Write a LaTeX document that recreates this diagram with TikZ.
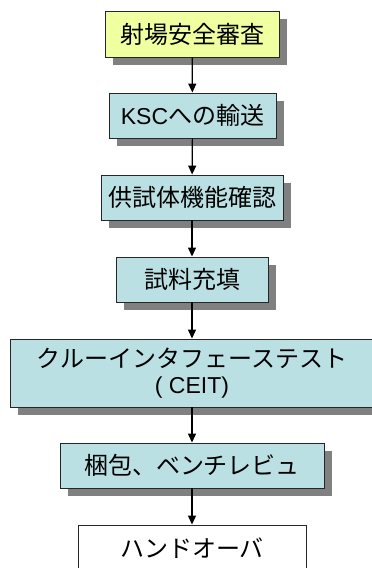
\documentclass[tikz,border=0pt]{standalone}
\usepackage{fontspec}
\setmainfont{Noto Sans CJK JP}
\newfontfamily\lat{Liberation Sans}
\usetikzlibrary{shadows,arrows.meta}
\definecolor{boxyellow}{RGB}{240,255,160}
\definecolor{boxcyan}{RGB}{187,224,227}
\definecolor{shadowgray}{RGB}{128,128,128}
\tikzset{
  flowbox/.style={draw=black!85, line width=0.9pt, inner sep=0pt, align=center,
    font=\fontsize{24}{25.5}\selectfont},
  shadowed/.style={drop shadow={shadow xshift=8pt, shadow yshift=-8pt, fill=shadowgray, opacity=1}},
  flowarrow/.style={line width=1.2pt, -{Triangle[length=9pt,width=8pt]}}
}
\begin{document}
\begin{tikzpicture}[x=1pt,y=-1pt]
\useasboundingbox (0,0) rectangle (372,568);
\node[flowbox, shadowed, fill=boxyellow, minimum width=174pt, minimum height=46pt] (n1) at (192,34) {射場安全審査};
\node[flowbox, shadowed, fill=boxcyan, minimum width=167pt, minimum height=45pt] (n2) at (192.5,115.5) {{\lat\fontsize{23}{25}\selectfont KSC}への輸送};
\node[flowbox, shadowed, fill=boxcyan, minimum width=182pt, minimum height=45pt] (n3) at (192,197.5) {供試体機能確認};
\node[flowbox, shadowed, fill=boxcyan, minimum width=152pt, minimum height=45pt] (n4) at (192,279.5) {試料充填};
\node[flowbox, shadowed, fill=boxcyan, minimum width=364pt, minimum height=68pt] (n5) at (192,373) {クルーインタフェーステスト\\{\lat\fontsize{23}{25}\selectfont ( CEIT)}};
\node[flowbox, shadowed, fill=boxcyan, minimum width=264pt, minimum height=45pt] (n6) at (192,465.5) {梱包、ベンチレビュ};
\node[flowbox, fill=white, minimum width=228pt, minimum height=46pt] (n7) at (192,548) {ハンドオーバ};
\draw[flowarrow] (n1) -- (n2);
\draw[flowarrow] (n2) -- (n3);
\draw[flowarrow] (n3) -- (n4);
\draw[flowarrow] (n4) -- (n5);
\draw[flowarrow] (n5) -- (n6);
\draw[flowarrow] (n6) -- (n7);
\end{tikzpicture}
\end{document}
